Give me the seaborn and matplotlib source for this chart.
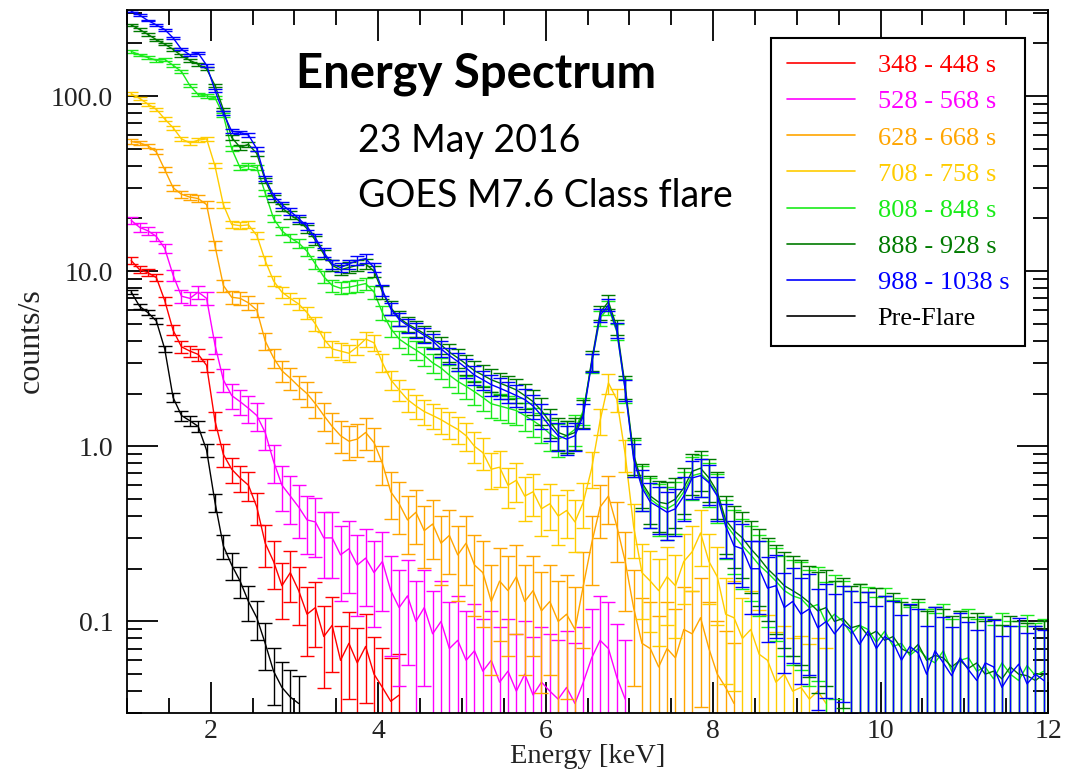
import numpy as np
import pandas as pd
import matplotlib
matplotlib.use("Agg")
import matplotlib.pyplot as plt
from matplotlib.lines import Line2D
from matplotlib.ticker import (MultipleLocator, FixedLocator, FixedFormatter,
                               LogLocator, NullFormatter)
import seaborn as sns

# ---------------------------------------------------------------------------
# Count-rate spectra (counts/s) in 0.1 keV bins starting at 1.0 keV
# ---------------------------------------------------------------------------
bin_width = 0.1
energies = np.round(1.0 + bin_width * (np.arange(110) + 0.5), 2)

rate_348_448 = [
    11.5, 10.2, 9.8, 9.2, 6.8, 4.6, 3.7, 3.5, 3.35, 2.9,
    1.4, 0.9, 0.74, 0.66, 0.6, 0.45, 0.28, 0.22, 0.16, 0.19,
    0.15, 0.11, 0.12, 0.082, 0.095, 0.06, 0.075, 0.058, 0.072, 0.05,
    0.042, 0.035, 0.038,
]
rate_528_568 = [
    19.5, 17.8, 17.0, 15.8, 13.5, 9.5, 7.2, 7.0, 7.6, 7.0,
    3.8, 2.4, 1.95, 1.8, 1.65, 1.5, 1.2, 0.82, 0.6, 0.52,
    0.45, 0.38, 0.37, 0.3, 0.3, 0.24, 0.26, 0.21, 0.23, 0.19,
    0.22, 0.15, 0.12, 0.14, 0.1, 0.12, 0.085, 0.1, 0.07, 0.078,
    0.06, 0.068, 0.052, 0.06, 0.045, 0.052, 0.04, 0.05, 0.038, 0.045,
    0.04, 0.036, 0.042, 0.034, 0.045, 0.062, 0.078, 0.07, 0.048, 0.036,
]
rate_628_668 = [
    55, 54, 52, 48, 38, 30, 27.5, 26.5, 26, 24,
    14, 8.3, 7.1, 7.0, 6.6, 6.0, 4.0, 3.2, 2.7, 2.45,
    2.2, 2.0, 1.75, 1.5, 1.3, 1.15, 1.07, 1.1, 1.2, 1.05,
    0.8, 0.55, 0.47, 0.38, 0.42, 0.33, 0.36, 0.28, 0.31, 0.24,
    0.28, 0.21, 0.19, 0.13, 0.17, 0.15, 0.18, 0.13, 0.15, 0.115,
    0.13, 0.1, 0.11, 0.09, 0.16, 0.28, 0.45, 0.52, 0.35, 0.22,
    0.12, 0.075, 0.07, 0.055, 0.07, 0.062, 0.09, 0.085, 0.105, 0.07,
    0.05, 0.042, 0.034,
]
rate_708_758 = [
    103, 97, 90, 84, 74, 66, 57, 54, 56, 57,
    40, 24, 18.5, 18.2, 18.4, 16, 11.5, 8.8, 7.6, 7.0,
    6.5, 5.8, 5.0, 4.1, 3.6, 3.5, 3.4, 3.7, 4.1, 3.9,
    3.0, 2.4, 2.1, 1.85, 1.7, 1.58, 1.5, 1.42, 1.33, 1.25,
    1.15, 1.0, 0.92, 0.74, 0.76, 0.6, 0.64, 0.52, 0.55, 0.44,
    0.47, 0.4, 0.43, 0.37, 0.48, 0.75, 1.4, 2.3, 1.85, 0.9,
    0.35, 0.19, 0.17, 0.15, 0.18, 0.16, 0.22, 0.25, 0.32, 0.22,
    0.18, 0.11, 0.105, 0.08, 0.09, 0.065, 0.06, 0.045, 0.05, 0.04,
    0.042, 0.036, 0.04, 0.034,
]
rate_808_848 = [
    180, 172, 166, 160, 162, 150, 138, 115, 102, 100,
    98, 78, 50, 39, 40, 39, 28, 20, 17, 15.5,
    14.5, 13, 11, 9.3, 8.3, 8.0, 8.1, 8.3, 8.5, 7.6,
    5.8, 4.7, 4.1, 3.8, 3.55, 3.3, 3.0, 2.8, 2.55, 2.35,
    2.2, 2.05, 1.9, 1.75, 1.7, 1.65, 1.6, 1.5, 1.4, 1.3,
    1.18, 1.1, 1.15, 1.25, 1.6, 3.0, 5.4, 6.2, 4.5, 2.1,
    0.88, 0.6, 0.5, 0.46, 0.44, 0.47, 0.55, 0.68, 0.7, 0.63,
    0.53, 0.36, 0.31, 0.27, 0.24, 0.21, 0.19, 0.17, 0.15, 0.14,
    0.135, 0.12, 0.125, 0.098, 0.11, 0.1, 0.085, 0.095, 0.09, 0.076,
    0.088, 0.072, 0.075, 0.064, 0.07, 0.062, 0.058, 0.068, 0.052, 0.06,
    0.062, 0.052, 0.055, 0.047, 0.058, 0.05, 0.046, 0.056, 0.049, 0.052,
]
rate_888_928 = [
    255, 240, 225, 210, 198, 185, 170, 160, 152, 143,
    115, 84, 58, 51, 53, 47, 33, 26, 23, 21,
    19.5, 17.5, 15, 12.5, 10.8, 10.2, 10.5, 10.8, 11, 10,
    7.6, 6.2, 5.4, 5.0, 4.7, 4.4, 4.1, 3.8, 3.45, 3.2,
    2.95, 2.7, 2.55, 2.4, 2.3, 2.2, 2.1, 1.95, 1.8, 1.6,
    1.38, 1.2, 1.15, 1.2, 1.55, 3.1, 5.8, 6.7, 4.8, 2.2,
    0.9, 0.62, 0.52, 0.48, 0.47, 0.5, 0.58, 0.72, 0.75, 0.66,
    0.55, 0.38, 0.33, 0.3, 0.26, 0.23, 0.2, 0.18, 0.16, 0.15,
    0.14, 0.128, 0.115, 0.12, 0.1, 0.104, 0.092, 0.095, 0.083, 0.088,
    0.078, 0.082, 0.07, 0.066, 0.074, 0.06, 0.064, 0.062, 0.055, 0.06,
    0.054, 0.058, 0.05, 0.052, 0.047, 0.055, 0.05, 0.049, 0.046, 0.05,
]
rate_988_1038 = [
    305, 290, 270, 255, 240, 215, 185, 172, 176, 150,
    108, 80, 63, 62, 60, 50, 34, 27, 24, 22,
    20, 18, 15.5, 12.8, 11.0, 10.5, 11.0, 11.5, 11.8, 10.5,
    7.8, 6.1, 5.3, 4.9, 4.6, 4.3, 4.0, 3.6, 3.3, 3.05,
    2.8, 2.55, 2.4, 2.25, 2.15, 2.05, 1.95, 1.85, 1.7, 1.5,
    1.3, 1.15, 1.1, 1.15, 1.5, 3.0, 5.6, 6.4, 4.6, 2.1,
    0.85, 0.58, 0.48, 0.45, 0.42, 0.44, 0.52, 0.66, 0.68, 0.62,
    0.52, 0.35, 0.27, 0.26, 0.2, 0.2, 0.155, 0.16, 0.12, 0.13,
    0.11, 0.118, 0.092, 0.1, 0.085, 0.097, 0.09, 0.074, 0.088, 0.07,
    0.082, 0.076, 0.06, 0.072, 0.066, 0.05, 0.068, 0.058, 0.049, 0.062,
    0.053, 0.046, 0.058, 0.055, 0.042, 0.05, 0.057, 0.044, 0.05, 0.046,
]
rate_preflare = [
    7.6, 6.3, 5.8, 5.2, 3.6, 1.9, 1.5, 1.4, 1.3, 0.95,
    0.48, 0.27, 0.21, 0.17, 0.13, 0.105, 0.075, 0.052, 0.042, 0.037,
    0.034,
]

interval_start = [348, 528, 628, 708, 808, 888, 988]
interval_end = [448, 568, 668, 758, 848, 928, 1038]
preflare_exposure = 300

series_rates = [rate_348_448, rate_528_568, rate_628_668, rate_708_758,
                rate_808_848, rate_888_928, rate_988_1038, rate_preflare]
series_labels = [f"{a} - {b} s" for a, b in zip(interval_start, interval_end)] + ["Pre-Flare"]
series_exposure = [b - a for a, b in zip(interval_start, interval_end)] + [preflare_exposure]
series_colors = ["#ff0000", "#ff00ff", "#ffa500", "#ffcc00",
                 "#1aeb1a", "#007a00", "#0000ff", "#000000"]

ytick_values = [0.1, 1.0, 10.0, 100.0]
ytick_labels = ["0.1", "1.0", "10.0", "100.0"]

# Long-form table of all spectra
frames = []
for rates, label, expo in zip(series_rates, series_labels, series_exposure):
    r = np.asarray(rates, dtype=float)
    frames.append(pd.DataFrame({
        "energy": energies[:len(r)],
        "rate": r,
        # Poisson uncertainty of the count rate
        "err": np.sqrt(r / (0.5 * expo)),
        "interval": label,
    }))
spectra = pd.concat(frames, ignore_index=True)

# ---------------------------------------------------------------------------
# Figure
# ---------------------------------------------------------------------------
sns.set_theme(style="ticks")
plt.rcParams["font.family"] = ["Liberation Serif", "DejaVu Serif"]
plt.rcParams["axes.linewidth"] = 1.3
plt.rcParams["axes.edgecolor"] = "black"

fig = plt.figure(figsize=(10.73, 7.73), dpi=100)
ax = fig.add_axes([0.1184, 0.0776, 0.8583, 0.9094])
ax.set_yscale("log")

for label, color in zip(series_labels, series_colors):
    d = spectra[spectra["interval"] == label]
    lower = np.where(d["rate"] - d["err"] > 0, d["err"], d["rate"] * 0.999)
    sns.lineplot(data=d, x="energy", y="rate", color=color, lw=1.0,
                 ax=ax, legend=False, errorbar=None)
    ax.errorbar(d["energy"], d["rate"], yerr=[lower, d["err"]], fmt="none",
                ecolor=color, elinewidth=1.0, capsize=5, capthick=1.0)

ax.set_xlim(1, 12)
ax.set_ylim(0.03, 310)

ax.xaxis.set_major_locator(MultipleLocator(2))
ax.xaxis.set_minor_locator(MultipleLocator(0.5))
ax.yaxis.set_major_locator(FixedLocator(ytick_values))
ax.yaxis.set_major_formatter(FixedFormatter(ytick_labels))
ax.yaxis.set_minor_locator(LogLocator(base=10, subs=np.arange(2, 10) * 1.0, numticks=30))
ax.yaxis.set_minor_formatter(NullFormatter())

ax.tick_params(which="both", direction="in", top=True, right=True,
               width=1.3, color="black", labelsize=20, labelcolor="#222222")
ax.tick_params(which="major", length=22)
ax.tick_params(axis="y", which="major", pad=10)
ax.tick_params(axis="x", which="major", pad=4)
ax.tick_params(which="minor", length=11)

ax.set_xlabel("Energy [keV]", fontsize=20.5, color="#222222")
ax.xaxis.set_label_coords(0.5, -0.044)
ax.set_ylabel("counts/s", fontsize=23, color="#222222")
ax.yaxis.set_label_coords(-0.088, 0.53)

# Legend with plain line keys and coloured labels
handles = [Line2D([], [], color=c, lw=1.2) for c in series_colors]
leg = fig.legend(handles, series_labels, loc="upper right",
                 bbox_to_anchor=(1025 / 1073, 1 - 38 / 773),
                 frameon=True, fancybox=False, edgecolor="black",
                 fontsize=19, handlelength=2.6, handletextpad=0.85,
                 labelspacing=0.48, borderpad=0.6, borderaxespad=0)
leg.get_frame().set_linewidth(1.5)
leg.get_frame().set_facecolor("white")
leg.get_frame().set_alpha(1)
for txt, c in zip(leg.get_texts(), series_colors):
    txt.set_color(c)

# Headline annotations
fig.text(296 / 1073, 1 - 87 / 773, "Energy Spectrum", family="Lato",
         weight="bold", fontsize=34, va="baseline", ha="left", color="black")
fig.text(358 / 1073, 1 - 152 / 773, "23 May 2016", family="Lato",
         fontsize=27, va="baseline", ha="left", color="black")
fig.text(358 / 1073, 1 - 207 / 773, "GOES M7.6 Class flare", family="Lato",
         fontsize=27, va="baseline", ha="left", color="black")

fig.savefig("out.png", dpi=100, facecolor="white")
